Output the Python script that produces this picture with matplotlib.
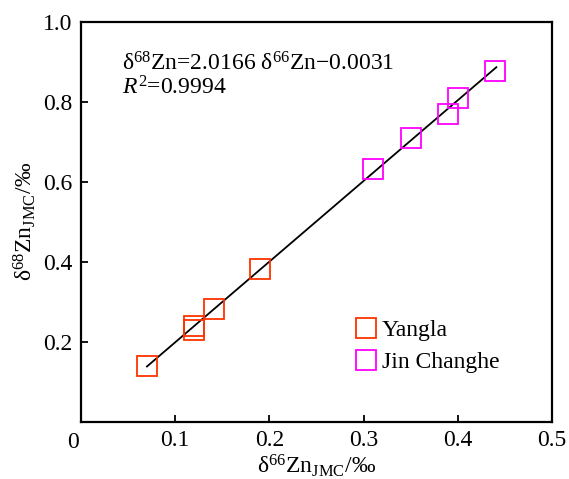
import numpy as np
import matplotlib as mlt
mlt.use('Agg')
import matplotlib.pyplot as plt

plt.rcParams['font.family'] = ['Liberation Serif', 'DejaVu Serif']
plt.rcParams['mathtext.fontset'] = 'custom'
plt.rcParams['mathtext.rm'] = 'Liberation Serif'
plt.rcParams['mathtext.it'] = 'Liberation Serif:italic'

# data
yangla_x = [0.070, 0.120, 0.120, 0.141, 0.190]
yangla_y = [0.140, 0.239, 0.229, 0.282, 0.381]
jin_x = [0.310, 0.350, 0.390, 0.400, 0.440]
jin_y = [0.631, 0.710, 0.769, 0.810, 0.878]
slope, intercept = 2.0166, -0.0031
fit_range = [0.07, 0.441]
xticks = [0.0, 0.1, 0.2, 0.3, 0.4, 0.5]
yticks = [0.0, 0.2, 0.4, 0.6, 0.8, 1.0]

FS = 17

fig = plt.figure(figsize=(5.69, 4.79), dpi=100)
ax = fig.add_axes([0.1424, 0.1196, 0.8276, 0.8351])

xf = np.array(fit_range)
ax.plot(xf, slope*xf + intercept, color='black', lw=1.3, zorder=1)
ax.plot(yangla_x, yangla_y, ls='none', marker='s', ms=14, mfc='none',
        mec='#ff3300', mew=1.3, label='Yangla', zorder=2)
ax.plot(jin_x, jin_y, ls='none', marker='s', ms=14, mfc='none',
        mec='#ff00ff', mew=1.3, label='Jin Changhe', zorder=2)

ax.set_xlim(0, 0.5)
ax.set_ylim(0, 1.0)
ax.set_xticks(xticks)
ax.set_yticks(yticks)
ax.set_xticklabels([''] + ['%.1f' % v for v in xticks[1:]])
ax.set_yticklabels([''] + ['%.1f' % v for v in yticks[1:]])
ax.tick_params(direction='in', length=5, width=1.3, labelsize=FS, pad=6)
for s in ax.spines.values():
    s.set_linewidth(1.6)
ax.text(-0.005, -0.025, '0', transform=ax.transAxes, ha='right', va='top', fontsize=FS)

ax.set_xlabel('δ$^{66}$Zn$_{\\mathrm{JMC}}$/‰', fontsize=FS, labelpad=1)
ax.set_ylabel('δ$^{68}$Zn$_{\\mathrm{JMC}}$/‰', fontsize=FS, labelpad=4)

ax.text(0.087, 0.879, 'δ$^{68}$Zn=2.0166 δ$^{66}$Zn\u22120.0031', transform=ax.transAxes,
        fontsize=FS, va='baseline')
ax.text(0.087, 0.817, '$\\mathit{R}^{2}$=0.9994', transform=ax.transAxes,
        fontsize=FS, va='baseline')

ax.legend(loc='upper left', bbox_to_anchor=(0.554, 0.284), frameon=False, fontsize=FS,
          handletextpad=0.2, borderpad=0, labelspacing=0.42, markerscale=1,
          handlelength=1.0)

fig.savefig('out.png', dpi=100)
